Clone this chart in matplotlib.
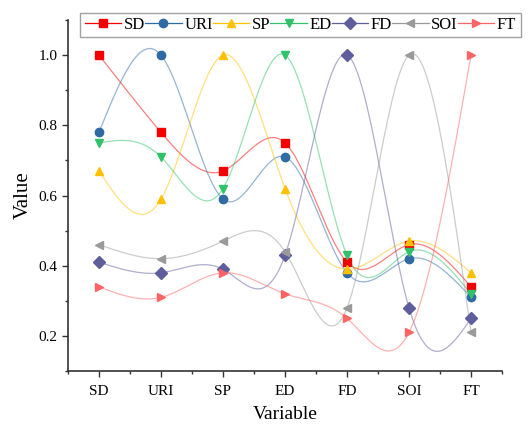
import matplotlib
matplotlib.use("Agg")
import matplotlib.pyplot as plt
from matplotlib.lines import Line2D
from matplotlib.ticker import MultipleLocator
import numpy as np

plt.rcParams["font.family"] = ["Liberation Serif", "DejaVu Serif"]

variables = ["SD", "URI", "SP", "ED", "FD", "SOI", "FT"]

sd = [1.00, 0.78, 0.67, 0.75, 0.41, 0.46, 0.34]
uri = [0.78, 1.00, 0.59, 0.71, 0.38, 0.42, 0.31]
sp = [0.67, 0.59, 1.00, 0.62, 0.39, 0.47, 0.38]
ed = [0.75, 0.71, 0.62, 1.00, 0.43, 0.44, 0.32]
fd = [0.41, 0.38, 0.39, 0.43, 1.00, 0.28, 0.25]
soi = [0.46, 0.42, 0.47, 0.44, 0.28, 1.00, 0.21]
ft = [0.34, 0.31, 0.38, 0.32, 0.25, 0.21, 1.00]

series = [
    ("SD", sd, "#f50000", "s"),
    ("URI", uri, "#2e6aa3", "o"),
    ("SP", sp, "#ffc000", "^"),
    ("ED", ed, "#2fc26b", "v"),
    ("FD", fd, "#5e5e9c", "D"),
    ("SOI", soi, "#9a9a9a", "<"),
    ("FT", ft, "#ff6464", ">"),
]


def natural_spline(x, y, n=300):
    # plain natural cubic spline, only used to draw the smooth connecting line
    x = np.asarray(x, float)
    y = np.asarray(y, float)
    k = len(x)
    h = np.diff(x)
    A = np.zeros((k, k))
    b = np.zeros(k)
    A[0, 0] = 1
    A[-1, -1] = 1
    for i in range(1, k - 1):
        A[i, i - 1] = h[i - 1]
        A[i, i] = 2 * (h[i - 1] + h[i])
        A[i, i + 1] = h[i]
        b[i] = 3 * ((y[i + 1] - y[i]) / h[i] - (y[i] - y[i - 1]) / h[i - 1])
    c = np.linalg.solve(A, b)
    xs = np.linspace(x[0], x[-1], n)
    idx = np.clip(np.searchsorted(x, xs) - 1, 0, k - 2)
    dx = xs - x[idx]
    bb = (y[idx + 1] - y[idx]) / h[idx] - h[idx] * (2 * c[idx] + c[idx + 1]) / 3
    dd = (c[idx + 1] - c[idx]) / (3 * h[idx])
    ys = y[idx] + bb * dx + c[idx] * dx ** 2 + dd * dx ** 3
    return xs, ys


fig = plt.figure(figsize=(5.29, 4.26), dpi=100)
ax = fig.add_axes([0.1285, 0.129, 0.8205, 0.824])

x = np.arange(len(variables))
handles = []
for name, vals, color, marker in series:
    xs, ys = natural_spline(x, vals)
    ax.plot(xs, ys, color=color, lw=0.9, alpha=0.5, zorder=2)
    ax.plot(x, vals, ls="none", marker=marker, ms=6, color=color, zorder=3)
    handles.append(Line2D([], [], color=color, lw=0.9, marker=marker,
                          ms=6, markerfacecolor=color, markeredgecolor=color,
                          label=name))

ax.set_xlim(-0.5, 6.5)
ax.set_ylim(0.1, 1.1)
ax.set_xticks(x)
ax.set_xticklabels(variables)
ax.xaxis.set_minor_locator(MultipleLocator(0.5))
ax.yaxis.set_minor_locator(MultipleLocator(0.1))
ax.set_yticks([0.2, 0.4, 0.6, 0.8, 1.0])
ax.tick_params(axis="both", which="major", direction="out", length=4, width=1,
               labelsize=11, color="#333333")
ax.tick_params(axis="both", which="minor", direction="out", length=2.5, width=1,
               color="#333333")
ax.tick_params(axis="x", pad=6)
for s in ["top", "right"]:
    ax.spines[s].set_visible(False)
for s in ["left", "bottom"]:
    ax.spines[s].set_linewidth(1.2)
    ax.spines[s].set_color("#333333")

ax.set_xlabel("Variable", fontsize=14, labelpad=6)
ax.set_ylabel("Value", fontsize=15, labelpad=4)

leg = fig.legend(handles=handles, loc="upper left", bbox_to_anchor=(0.152, 0.97),
                 ncol=7, frameon=True, fancybox=False, fontsize=12,
                 handlelength=2.2, handletextpad=0.15, columnspacing=0.0,
                 borderpad=0.25, borderaxespad=0)
leg.get_frame().set_edgecolor("#888888")
leg.get_frame().set_linewidth(1.0)
for line in leg.get_lines():
    line.set_linewidth(0.9)

fig.savefig("out.png", dpi=100)
